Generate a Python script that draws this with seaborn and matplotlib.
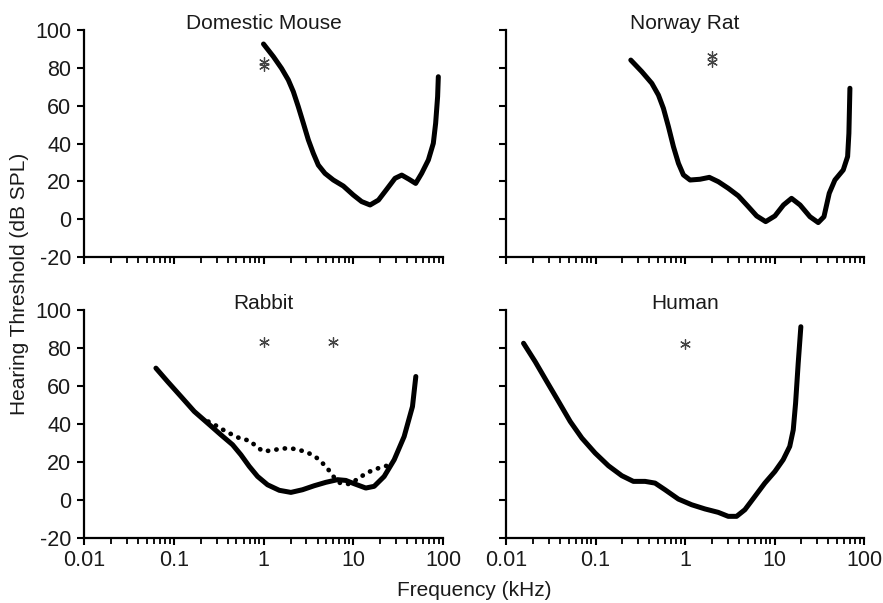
import numpy as np
import pandas as pd
import matplotlib
matplotlib.use("Agg")
import matplotlib.pyplot as plt
import seaborn as sns
from matplotlib.ticker import LogLocator, NullFormatter, FixedLocator

# ---------------- data ----------------
mouse_f = [1.0, 1.29, 1.59, 1.89, 2.15, 2.44, 2.78, 3.16, 3.59, 4.08, 4.84, 6.0, 7.76, 10.0, 12.4,
           15.4, 19.1, 23.6, 29.2, 34.7, 41.8, 49.6, 57.8, 68.7, 78.0, 82.8, 87.1, 88.7]
mouse_db = [92.6, 85.9, 79.7, 73.6, 67.4, 59.5, 50.7, 41.9, 34.8, 28.6, 24.2, 20.7, 17.5, 12.8, 9.3,
            7.5, 10.1, 15.8, 21.6, 23.3, 21.1, 18.9, 24.2, 31.3, 40.1, 50.7, 64.8, 75.3]
mouse_star_f = [1.0, 1.0]
mouse_star_db = [81, 83]

rat_f = [0.248, 0.329, 0.426, 0.505, 0.574, 0.653, 0.743, 0.845, 0.96, 1.14, 1.47, 1.87, 2.36, 3.05,
         3.95, 5.1, 6.32, 7.97, 10.1, 12.6, 15.5, 19.3, 24.9, 30.8, 35.7, 40.9, 47.3, 58.6, 65.6, 67.8, 69.6]
rat_db = [84.1, 78.0, 71.8, 65.6, 58.6, 48.9, 38.3, 29.5, 23.4, 20.7, 21.1, 22.1, 19.8, 16.3,
          12.3, 6.6, 1.7, -1.3, 1.7, 7.5, 11.0, 7.5, 1.3, -1.8, 1.3, 13.7, 20.7, 26.0, 33.1, 45.4, 69.2]
rat_star_f = [2.02, 2.02]
rat_star_db = [86.5, 83]

rabbit_f = [0.0633, 0.0855, 0.1202, 0.1693, 0.238, 0.3355, 0.452, 0.56, 0.694, 0.859, 1.11, 1.50, 2.02,
            2.72, 3.67, 4.95, 6.68, 8.27, 10.2, 13.8, 17.1, 22.1, 28.6, 36.9, 45.7, 49.8]
rabbit_db = [69.4, 62.3, 54.5, 46.6, 40.5, 34.3, 29.1, 23.8, 17.7, 12.4, 8.0, 5.1, 4.0,
             5.4, 7.5, 9.3, 10.7, 10.3, 8.6, 6.3, 7.2, 12.4, 21.2, 33.4, 49.2, 65.0]
rabbit2_f = [0.2425, 0.3, 0.365, 0.452, 0.56, 0.70, 0.83, 0.99, 1.24, 1.56, 1.97, 2.46, 3.04, 3.83,
             4.55, 5.3, 6.08, 7.15, 9.0, 11.2, 13.6, 16.8, 20.8, 25.8]
rabbit2_db = [41.3, 39.0, 36.6, 34.3, 32.2, 31.3, 28.2, 25.6, 26.1, 27.0, 27.3, 26.4, 25.2, 22.6,
              19.4, 15.9, 12.1, 8.9, 8.4, 11.0, 13.8, 15.9, 17.3, 18.5]
rabbit_star_f = [1.0, 6.0]
rabbit_star_db = [83.4, 83.4]

human_f = [0.0157, 0.0212, 0.0286, 0.0387, 0.0522, 0.0704, 0.0991, 0.1396, 0.1966, 0.265, 0.358, 0.463,
           0.598, 0.842, 1.187, 1.67, 2.35, 3.04, 3.77, 4.67, 6.04, 7.8, 10.1, 12.5, 14.8, 16.2, 17.2, 18.4, 19.7]
human_db = [82.5, 72.8, 62.3, 51.8, 41.3, 32.6, 24.7, 18.0, 12.8, 9.8, 9.8, 8.9,
            5.4, 0.5, -2.5, -4.7, -6.5, -8.6, -8.6, -5.1, 1.9, 8.9, 15.0, 21.2, 28.2, 36.9, 50.9, 72.0, 91.2]
human_star_f = [1.0]
human_star_db = [82.1]

titles = ["Domestic Mouse", "Norway Rat", "Rabbit", "Human"]
y_ticks = [-20, 0, 20, 40, 60, 80, 100]
x_ticks = [0.01, 0.1, 1, 10, 100]
x_ticklabels = ["0.01", "0.1", "1", "10", "100"]

# ---------------- style ----------------
sns.set_theme(style="white")
plt.rcParams['font.family'] = ['Liberation Sans', 'DejaVu Sans']
plt.rcParams['axes.unicode_minus'] = False

fig = plt.figure(figsize=(8.83, 6.03), dpi=100)
W, H = 883, 603
boxes = [(84, 30, 443, 257), (506, 30, 864, 257), (84, 310, 443, 538), (506, 310, 864, 538)]
axes = []
for (l, t, r, b) in boxes:
    axes.append(fig.add_axes([l / W, 1 - b / H, (r - l) / W, (b - t) / H]))

panels = [
    [(mouse_f, mouse_db, "-")],
    [(rat_f, rat_db, "-")],
    [(rabbit_f, rabbit_db, "-"), (rabbit2_f, rabbit2_db, ":")],
    [(human_f, human_db, "-")],
]
stars = [(mouse_star_f, mouse_star_db), (rat_star_f, rat_star_db),
         (rabbit_star_f, rabbit_star_db), (human_star_f, human_star_db)]

for i, ax in enumerate(axes):
    for f, db, ls in panels[i]:
        df = pd.DataFrame({"f": f, "db": db})
        if ls == "-":
            sns.lineplot(data=df, x="f", y="db", ax=ax, color="black", lw=3.6,
                         sort=False, estimator=None, solid_capstyle="round", solid_joinstyle="round")
        else:
            sns.lineplot(data=df, x="f", y="db", ax=ax, color="black", lw=3.4,
                         sort=False, estimator=None, linestyle=(0, (0.05, 1.75)),
                         dash_capstyle="round")
    sf, sdb = stars[i]
    sdf = pd.DataFrame({"f": sf, "db": sdb})
    sns.scatterplot(data=sdf, x="f", y="db", ax=ax, marker=(6, 2, 0), s=50,
                    color="#444444", linewidth=0.9, edgecolor="#444444")

    ax.set_xscale("log")
    ax.set_xlim(0.01, 100)
    ax.set_ylim(-20, 100)
    ax.set_xlabel("")
    ax.set_ylabel("")
    ax.set_yticks(y_ticks)
    ax.xaxis.set_major_locator(FixedLocator(x_ticks))
    ax.xaxis.set_minor_locator(LogLocator(base=10, subs=np.arange(2, 10)))
    ax.xaxis.set_minor_formatter(NullFormatter())
    if i >= 2:
        ax.set_xticklabels(x_ticklabels)
    else:
        ax.set_xticklabels([])
    if i % 2 == 1:
        ax.set_yticklabels([])
    ax.tick_params(axis="both", which="major", direction="out", length=5, width=1.5,
                   color="black", labelsize=15.5, labelcolor="#1a1a1a", pad=4,
                   bottom=True, left=True)
    ax.tick_params(axis="x", which="minor", direction="out", length=4, width=1.3,
                   color="black", bottom=True)
    for s in ["top", "right"]:
        ax.spines[s].set_visible(False)
    for s in ["left", "bottom"]:
        ax.spines[s].set_color("black")
        ax.spines[s].set_linewidth(1.6)
    ax.text(0.5, 1.03, titles[i], transform=ax.transAxes, ha="center", va="center",
            fontsize=15, color="#1a1a1a")
    ax.set_facecolor("white")

fig.text(20 / W, 1 - 284 / H, "Hearing Threshold (dB SPL)", rotation=90,
         ha="center", va="center", fontsize=15, color="#1a1a1a")
fig.text(474 / W, 1 - 590 / H, "Frequency (kHz)", ha="center", va="center",
         fontsize=15, color="#1a1a1a")

fig.savefig("out.png", dpi=100, facecolor="white")
